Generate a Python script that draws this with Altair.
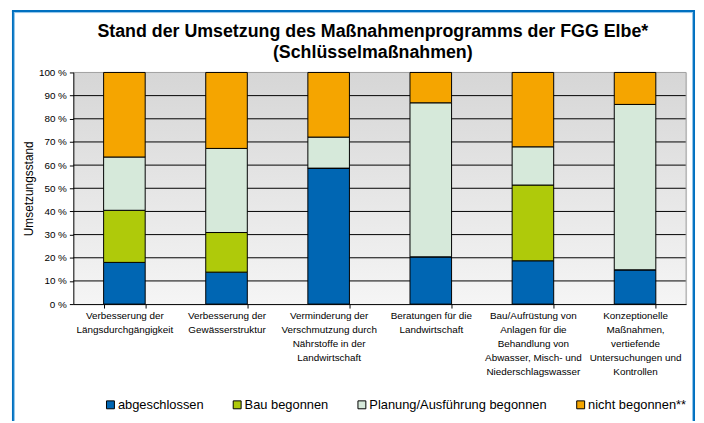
import altair as alt
import pandas as pd

title_lines = ["Stand der Umsetzung des Maßnahmenprogramms der FGG Elbe*", "(Schlüsselmaßnahmen)"]
categories = [
    "Verbesserung der|Längsdurchgängigkeit",
    "Verbesserung der|Gewässerstruktur",
    "Verminderung der|Verschmutzung durch|Nährstoffe in der|Landwirtschaft",
    "Beratungen für die|Landwirtschaft",
    "Bau/Aufrüstung von|Anlagen für die|Behandlung von|Abwasser, Misch- und|Niederschlagswasser",
    "Konzeptionelle|Maßnahmen,|vertiefende|Untersuchungen und|Kontrollen",
]
statuses = ["abgeschlossen", "Bau begonnen", "Planung/Ausführung begonnen", "nicht begonnen**"]
colors = ["#0066B3", "#AFCA0A", "#D6E9DA", "#F5A500"]
abgeschlossen = [18.0, 13.8, 58.7, 20.4, 18.7, 14.8]
bau_begonnen = [22.5, 17.1, 0.0, 0.0, 32.7, 0.0]
planung = [23.0, 36.3, 13.4, 66.5, 16.5, 71.4]
nicht_begonnen = [36.5, 32.8, 27.9, 13.1, 32.1, 13.8]
y_ticks = [0, 10, 20, 30, 40, 50, 60, 70, 80, 90, 100]

series = [abgeschlossen, bau_begonnen, planung, nicht_begonnen]
rows = []
for i, c in enumerate(categories):
    for j, s in enumerate(statuses):
        rows.append({"cat": c, "status": s, "order": j, "value": series[j][i]})
df = pd.DataFrame(rows)

W, H = 619, 234
FONT = "Liberation Sans"

yscale = alt.Scale(domain=[0, 100], nice=False)
yaxis = alt.Axis(
    values=y_ticks, labelExpr="datum.value + ' %'", grid=False, tickSize=4,
    title="Umsetzungsstand", titleFontSize=12, titleFontWeight="normal",
    titleFont=FONT, titlePadding=3, labelFont=FONT, labelFontSize=10,
    labelColor="#000", domainColor="#000", tickColor="#000", zindex=1,
    titleColor="#000", labelPadding=3,
)

one = pd.DataFrame({"a": [0]})

bg = alt.Chart(one).mark_rect(
    fill=alt.Gradient(
        gradient="linear",
        stops=[alt.GradientStop(color="#d6d6d6", offset=0), alt.GradientStop(color="#f5f5f5", offset=1)],
        x1=0, x2=0, y1=0, y2=1,
    )
).encode(x=alt.value(0), x2=alt.value(W), y=alt.value(0), y2=alt.value(H))

grid = alt.Chart(pd.DataFrame({"v": y_ticks[1:]})).mark_rule(strokeWidth=1).encode(
    y=alt.Y("v:Q", scale=yscale, axis=yaxis, title="Umsetzungsstand"),
    color=alt.condition("datum.v == 100", alt.value("#a0a0a0"), alt.value("#000000")),
)

right_edge = alt.Chart(one).mark_rule(color="#a0a0a0", strokeWidth=1).encode(
    x=alt.value(W), y=alt.value(0), y2=alt.value(H)
)

bars = alt.Chart(df).mark_bar(stroke="#000", strokeWidth=1).encode(
    x=alt.X(
        "cat:N", sort=categories, title=None,
        scale=alt.Scale(paddingInner=0.593, paddingOuter=0.2965),
        axis=alt.Axis(
            labelAngle=0, labelExpr="split(datum.label, '|')", tickBand="extent",
            tickSize=4, labelFont=FONT, labelFontSize=10, labelLineHeight=14,
            labelColor="#000", domainColor="#000", tickColor="#000", labelPadding=3,
            zindex=1, labelLimit=200,
        ),
    ),
    y=alt.Y("value:Q", scale=yscale, axis=yaxis, title="Umsetzungsstand", stack="zero"),
    color=alt.Color(
        "status:N",
        scale=alt.Scale(domain=statuses, range=colors),
        legend=alt.Legend(
            title=None, orient="none", direction="horizontal", legendX=31, legendY=329,
            symbolType="square", symbolSize=64, symbolStrokeColor="#000",
            symbolStrokeWidth=1, labelFont=FONT, labelFontSize=13, labelColor="#000",
            columnPadding=27, labelOffset=1, labelLimit=400,
        ),
    ),
    order=alt.Order("order:Q", sort="ascending"),
)

title1 = alt.Chart(one).mark_text(
    font=FONT, fontSize=18, fontWeight="bold", color="#000", align="center", baseline="middle"
).encode(x=alt.value(W / 2 - 7), y=alt.value(-41), text=alt.value(title_lines[0]))
title2 = alt.Chart(one).mark_text(
    font=FONT, fontSize=18, fontWeight="bold", color="#000", align="center", baseline="middle"
).encode(x=alt.value(W / 2 - 7), y=alt.value(-20), text=alt.value(title_lines[1]))

DARK = "#0070C0"
LIGHT = "#8EC3EA"
frame = [
    alt.Chart(one).mark_rule(color=DARK, strokeWidth=2).encode(x=alt.value(-61), y=alt.value(-62), y2=alt.value(352)),
    alt.Chart(one).mark_rule(color=LIGHT, strokeWidth=1).encode(x=alt.value(-59.5), y=alt.value(-60.5), y2=alt.value(352)),
    alt.Chart(one).mark_rule(color=DARK, strokeWidth=2).encode(x=alt.value(627), y=alt.value(-62), y2=alt.value(352)),
    alt.Chart(one).mark_rule(color=LIGHT, strokeWidth=1).encode(x=alt.value(625.5), y=alt.value(-60.5), y2=alt.value(352)),
    alt.Chart(one).mark_rule(color=DARK, strokeWidth=2).encode(x=alt.value(-62), x2=alt.value(628), y=alt.value(-62)),
    alt.Chart(one).mark_rule(color=LIGHT, strokeWidth=1).encode(x=alt.value(-60), x2=alt.value(626), y=alt.value(-60.5)),
]

chart = alt.layer(bg, grid, right_edge, bars, title1, title2, *frame).properties(
    width=W, height=H,
    autosize=alt.AutoSizeParams(type="none"),
    padding={"left": 66, "top": 63, "right": 10, "bottom": 118},
).configure_view(stroke=None).configure(background="#ffffff")

chart.save("out.html", embed_options={"renderer": "svg", "actions": False})
